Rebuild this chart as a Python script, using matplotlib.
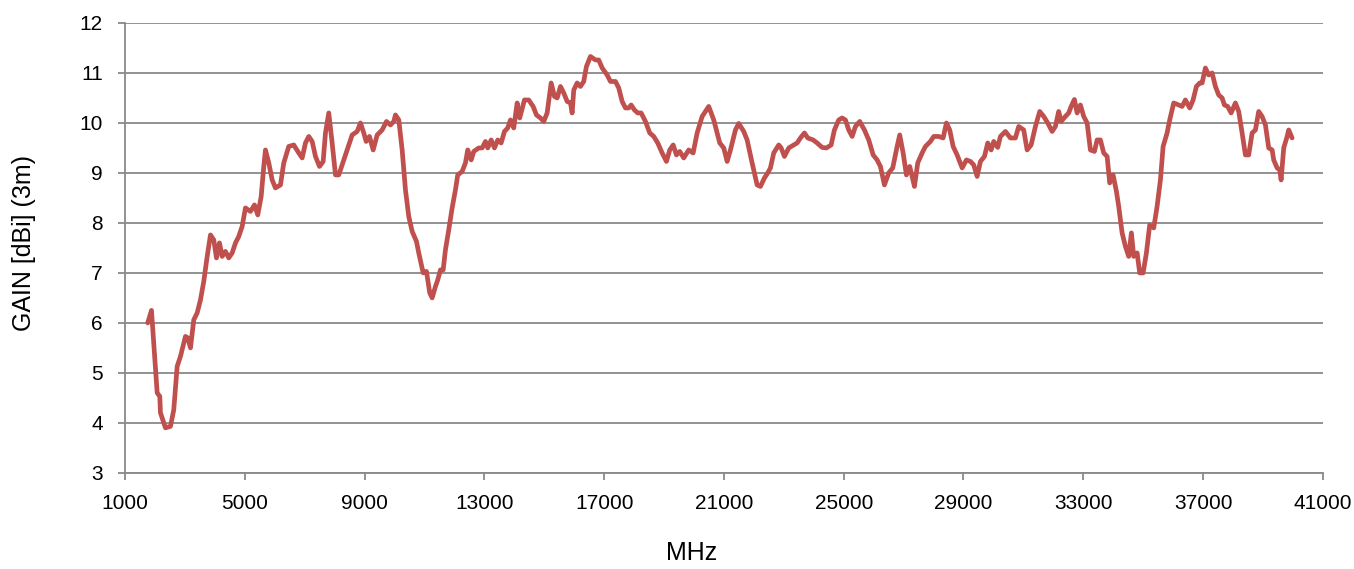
"""Antenna gain (3 m) versus frequency."""
import matplotlib
matplotlib.use("Agg")
import matplotlib.pyplot as plt

plt.rcParams["font.family"] = ["Liberation Sans", "DejaVu Sans"]

# frequency (MHz) and gain (dBi)
FREQ_MHZ = [
    1760, 1885, 2075, 2162, 2185, 2352, 2519, 2629, 2743, 2853,
    3020, 3097, 3187, 3297, 3411, 3521, 3631, 3745, 3855, 3965,
    4055, 4155, 4245, 4355, 4466, 4579, 4690, 4800, 4913, 5023,
    5190, 5324, 5434, 5548, 5635, 5691, 5802, 5915, 6025, 6192,
    6302, 6469, 6636, 6803, 6917, 7027, 7137, 7251, 7361, 7495,
    7618, 7695, 7805, 7918, 8029, 8139, 8252, 8419, 8586, 8753,
    8863, 8974, 9054, 9164, 9288, 9421, 9588, 9732, 9865, 9977,
    10032, 10143, 10256, 10366, 10476, 10590, 10733, 10810, 10957, 11067,
    11177, 11257, 11368, 11444, 11534, 11625, 11701, 11811, 11925, 12035,
    12112, 12259, 12369, 12446, 12560, 12647, 12814, 12927, 13037, 13114,
    13228, 13338, 13448, 13561, 13672, 13782, 13872, 13982, 14096, 14182,
    14339, 14483, 14630, 14740, 14874, 14984, 15097, 15231, 15342, 15432,
    15542, 15652, 15766, 15876, 15932, 15986, 16099, 16209, 16319, 16409,
    16543, 16710, 16820, 16934, 17101, 17211, 17378, 17488, 17602, 17712,
    17822, 17902, 18012, 18122, 18236, 18380, 18523, 18657, 18790, 18937,
    19081, 19191, 19305, 19415, 19525, 19658, 19825, 19972, 20106, 20273,
    20493, 20660, 20861, 20994, 21108, 21218, 21385, 21495, 21662, 21775,
    21942, 22109, 22220, 22353, 22463, 22553, 22664, 22831, 22911, 23021,
    23165, 23331, 23445, 23555, 23689, 23799, 23979, 24112, 24279, 24423,
    24580, 24690, 24834, 24947, 25058, 25168, 25282, 25392, 25535, 25692,
    25836, 25983, 26116, 26226, 26360, 26503, 26637, 26784, 26871, 26984,
    27094, 27204, 27285, 27362, 27472, 27619, 27729, 27896, 28006, 28173,
    28320, 28430, 28540, 28654, 28787, 28955, 29098, 29232, 29342, 29456,
    29566, 29700, 29810, 29923, 30010, 30143, 30233, 30400, 30567, 30734,
    30844, 31011, 31125, 31258, 31402, 31545, 31679, 31812, 31959, 32069,
    32179, 32259, 32403, 32513, 32594, 32704, 32794, 32904, 33015, 33128,
    33238, 33372, 33462, 33572, 33682, 33796, 33883, 33996, 34107, 34183,
    34297, 34407, 34517, 34607, 34684, 34798, 34884, 34998, 35108, 35218,
    35352, 35465, 35576, 35666, 35799, 35886, 36020, 36187, 36300, 36410,
    36554, 36667, 36777, 36888, 36968, 37078, 37188, 37302, 37412, 37522,
    37636, 37713, 37823, 37937, 38080, 38190, 38304, 38414, 38524, 38638,
    38748, 38858, 38972, 39082, 39192, 39306, 39359, 39473, 39560, 39606,
    39693, 39807, 39860, 39973,
]
GAIN_DBI = [
    6.00, 6.25, 4.60, 4.53, 4.20, 3.90, 3.93, 4.26, 5.13, 5.33,
    5.73, 5.70, 5.50, 6.06, 6.20, 6.46, 6.83, 7.33, 7.76, 7.66,
    7.30, 7.60, 7.33, 7.43, 7.30, 7.40, 7.60, 7.73, 7.93, 8.30,
    8.23, 8.36, 8.16, 8.53, 9.13, 9.46, 9.20, 8.86, 8.70, 8.76,
    9.20, 9.53, 9.56, 9.40, 9.30, 9.60, 9.73, 9.63, 9.33, 9.13,
    9.23, 9.80, 10.20, 9.60, 8.96, 8.96, 9.16, 9.46, 9.76, 9.83,
    10.00, 9.80, 9.63, 9.73, 9.46, 9.76, 9.86, 10.03, 9.96, 10.03,
    10.16, 10.06, 9.46, 8.66, 8.13, 7.83, 7.63, 7.40, 7.00, 7.03,
    6.60, 6.50, 6.73, 6.86, 7.06, 7.06, 7.46, 7.86, 8.30, 8.66,
    8.96, 9.03, 9.20, 9.46, 9.26, 9.43, 9.50, 9.50, 9.63, 9.50,
    9.66, 9.50, 9.66, 9.60, 9.83, 9.90, 10.06, 9.90, 10.40, 10.10,
    10.46, 10.46, 10.33, 10.16, 10.10, 10.03, 10.20, 10.80, 10.53, 10.50,
    10.73, 10.60, 10.43, 10.40, 10.20, 10.66, 10.80, 10.73, 10.83, 11.13,
    11.33, 11.26, 11.26, 11.10, 10.96, 10.83, 10.83, 10.70, 10.43, 10.30,
    10.30, 10.36, 10.26, 10.20, 10.20, 10.03, 9.80, 9.73, 9.60, 9.40,
    9.23, 9.46, 9.56, 9.36, 9.43, 9.30, 9.46, 9.40, 9.80, 10.13,
    10.33, 10.06, 9.60, 9.50, 9.23, 9.46, 9.86, 9.99, 9.83, 9.66,
    9.20, 8.76, 8.73, 8.90, 9.00, 9.10, 9.40, 9.56, 9.50, 9.33,
    9.50, 9.56, 9.60, 9.70, 9.80, 9.70, 9.66, 9.60, 9.51, 9.50,
    9.56, 9.86, 10.06, 10.10, 10.06, 9.86, 9.73, 9.93, 10.03, 9.86,
    9.66, 9.36, 9.26, 9.13, 8.76, 9.00, 9.10, 9.53, 9.76, 9.40,
    8.96, 9.13, 8.93, 8.73, 9.20, 9.40, 9.53, 9.63, 9.73, 9.73,
    9.70, 10.00, 9.86, 9.53, 9.36, 9.10, 9.26, 9.23, 9.16, 8.93,
    9.23, 9.33, 9.60, 9.46, 9.63, 9.51, 9.73, 9.83, 9.70, 9.70,
    9.93, 9.86, 9.46, 9.56, 9.93, 10.23, 10.13, 10.00, 9.83, 9.93,
    10.23, 10.03, 10.13, 10.20, 10.33, 10.47, 10.20, 10.36, 10.13, 10.00,
    9.46, 9.43, 9.66, 9.66, 9.40, 9.33, 8.80, 8.96, 8.63, 8.33,
    7.80, 7.53, 7.33, 7.80, 7.33, 7.40, 7.00, 7.00, 7.40, 7.96,
    7.90, 8.33, 8.86, 9.53, 9.80, 10.06, 10.40, 10.36, 10.33, 10.46,
    10.30, 10.46, 10.73, 10.80, 10.80, 11.10, 10.96, 11.00, 10.73, 10.56,
    10.50, 10.36, 10.33, 10.20, 10.40, 10.23, 9.80, 9.36, 9.36, 9.80,
    9.86, 10.23, 10.13, 9.96, 9.50, 9.46, 9.26, 9.10, 9.06, 8.86,
    9.50, 9.73, 9.86, 9.70,
]

X_TICKS = list(range(1000, 41001, 4000))
Y_TICKS = list(range(3, 13))

LINE_COLOR = "#C0504D"
GRID_COLOR = "#898989"

fig = plt.figure(figsize=(13.54, 5.69), dpi=100)
ax = fig.add_axes([0.0923, 0.169, 0.8847, 0.7906])

ax.plot(FREQ_MHZ, GAIN_DBI, color=LINE_COLOR, linewidth=3.4,
        solid_joinstyle="round", solid_capstyle="round", zorder=3)

ax.set_xlim(1000, 41000)
ax.set_ylim(3, 12)
ax.set_xticks(X_TICKS)
ax.set_yticks(Y_TICKS)
ax.yaxis.grid(True, color=GRID_COLOR, linewidth=1.3)
ax.set_axisbelow(True)

for side in ("top", "right"):
    ax.spines[side].set_visible(False)
for side in ("left", "bottom"):
    ax.spines[side].set_color(GRID_COLOR)
    ax.spines[side].set_linewidth(1.3)

ax.tick_params(axis="both", direction="out", length=5, width=1.3,
               color=GRID_COLOR, labelsize=15, labelcolor="black")
ax.tick_params(axis="x", pad=10)
ax.tick_params(axis="y", pad=11)

ax.set_xlabel("MHz", fontsize=18)
ax.set_ylabel("GAIN [dBi] (3m)", fontsize=18)
ax.xaxis.set_label_coords(0.473, -0.152)
ax.yaxis.set_label_coords(-0.074, 0.51)

fig.savefig("out.png", dpi=100)
